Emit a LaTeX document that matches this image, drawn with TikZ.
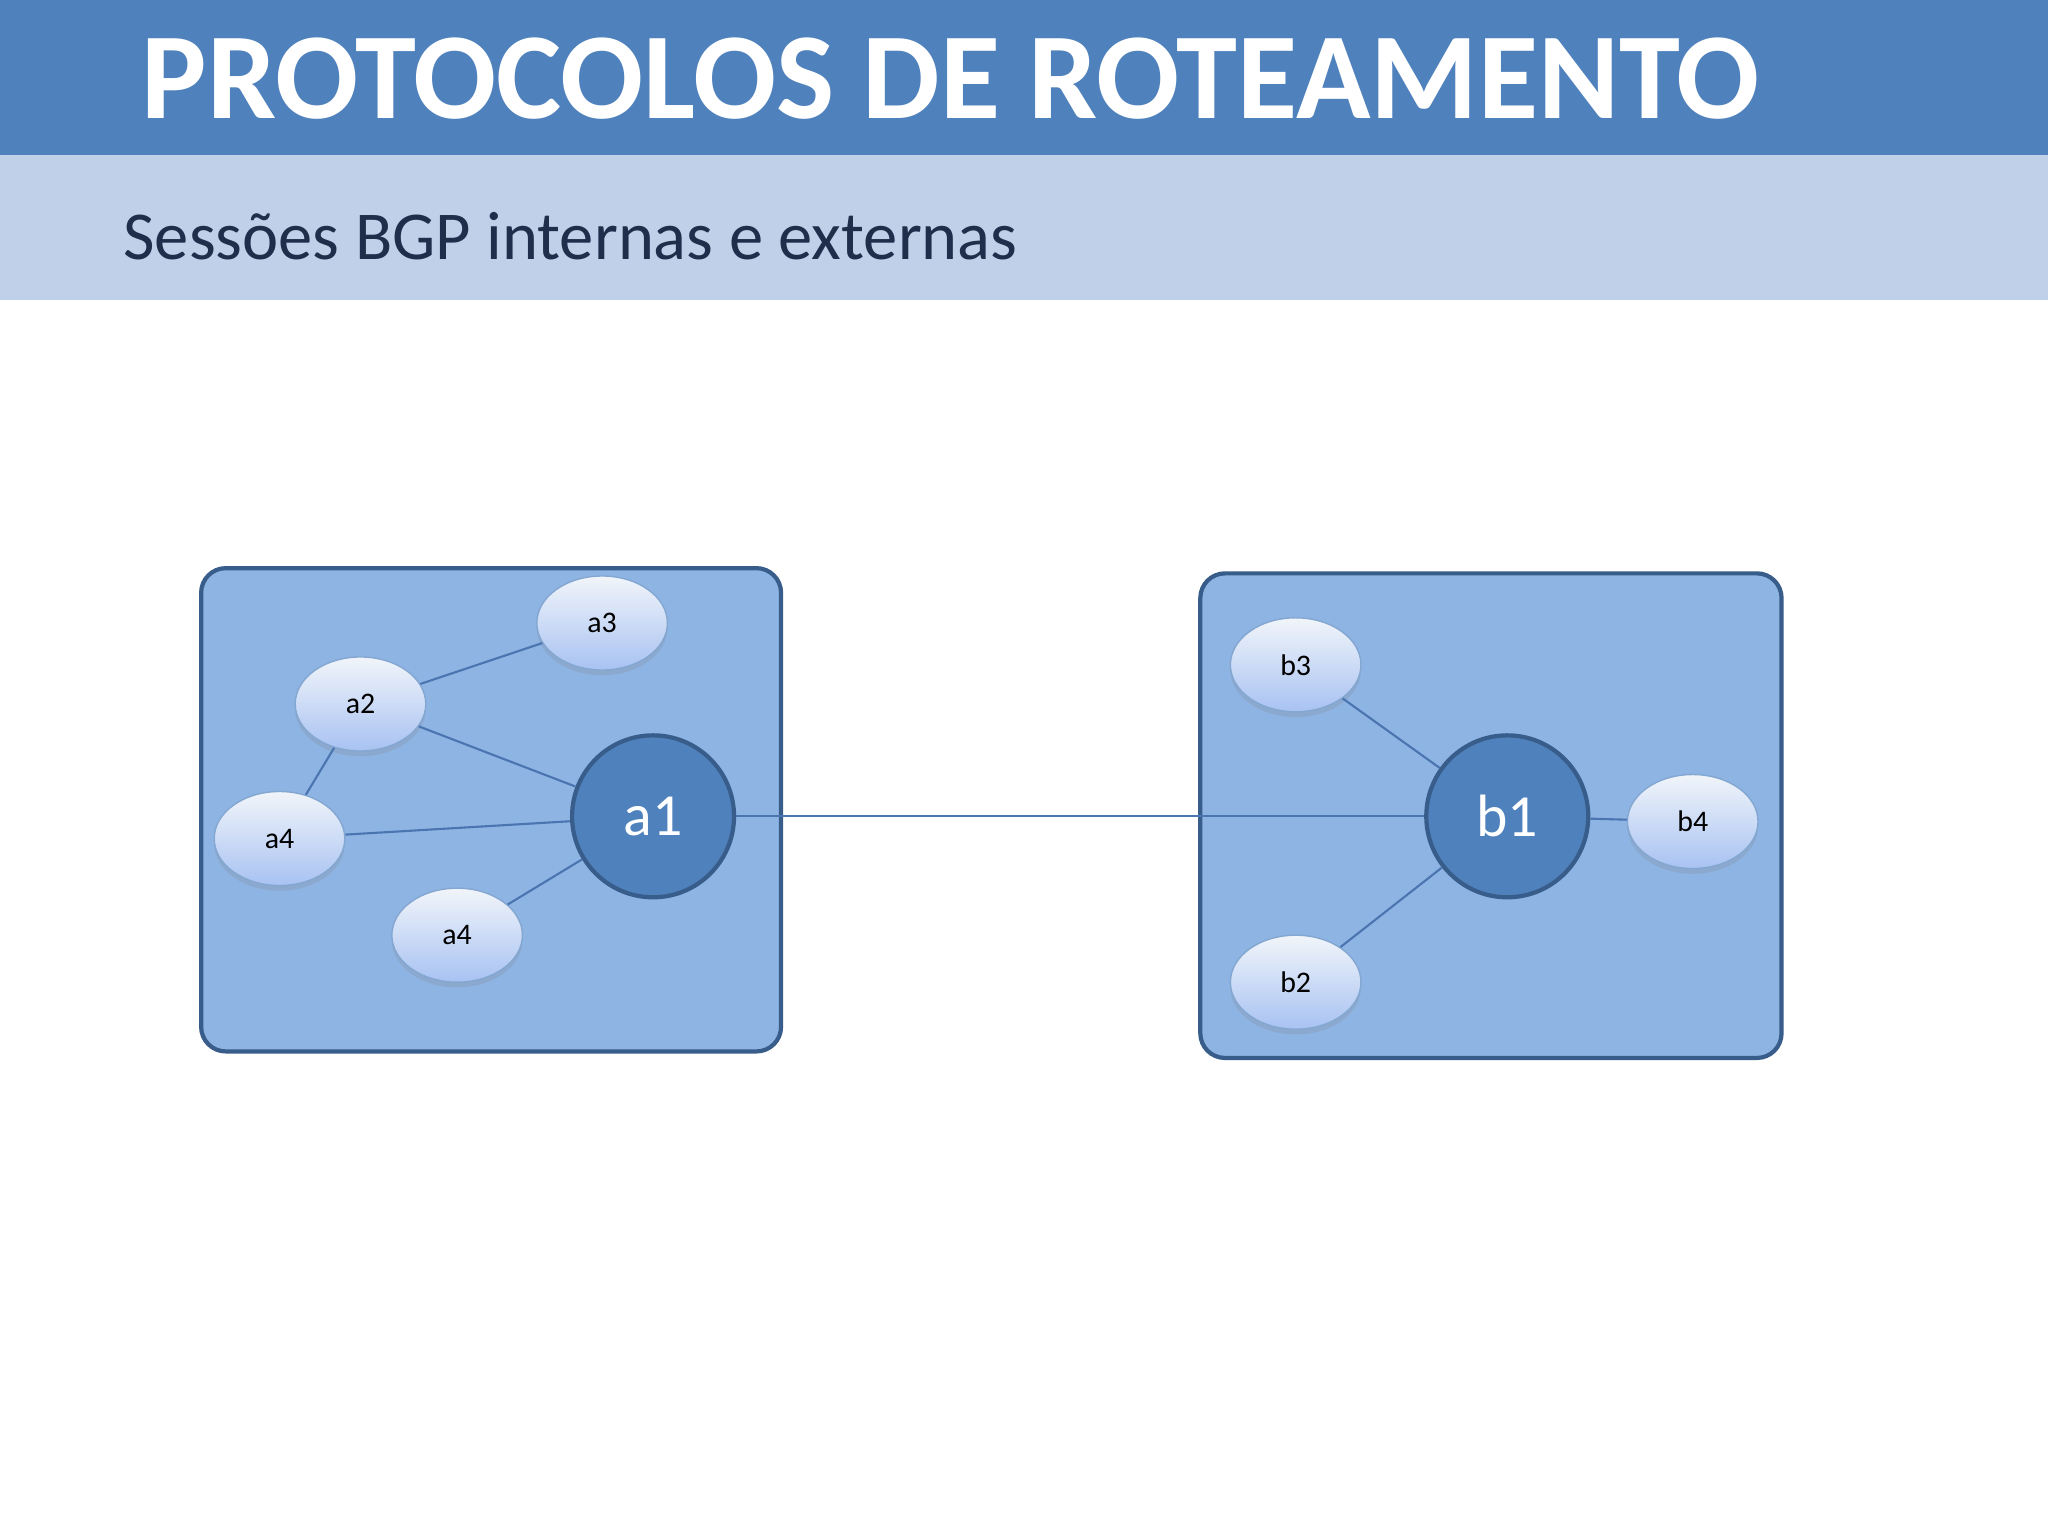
\documentclass[tikz,border=0pt]{standalone}
\usepackage{fontspec}
\setmainfont{Carlito}
\usetikzlibrary{shapes.geometric,shadows}
\definecolor{hdr}{HTML}{4F81BD}
\definecolor{band}{HTML}{BFD0E8}
\definecolor{subt}{HTML}{1F2E4A}
\definecolor{boxf}{HTML}{8EB4E3}
\definecolor{boxd}{HTML}{385D8A}
\definecolor{edge}{HTML}{4A75B0}
\definecolor{ellb}{HTML}{A8C2F2}
\newlength{\pxu}
\setlength{\pxu}{0.013061cm}
\tikzset{
 asbox/.style={draw=boxd,line width=1.2pt,fill=boxf,rounded corners=7pt},
 small/.style={ellipse,minimum width=100\pxu,minimum height=72\pxu,draw=hdr!70!white,line width=0.4pt,top color=white!92!hdr,bottom color=ellb,font=\fontsize{8.5}{8.5}\selectfont,text=black,drop shadow={shadow xshift=0pt,shadow yshift=-1.5pt,opacity=0.2}},
 big/.style={circle,minimum size=124\pxu,draw=boxd,line width=1.2pt,fill=hdr,text=white,font=\fontsize{17}{17}\selectfont},
 conn/.style={draw=edge,line width=0.6pt}
}
\begin{document}
\begin{tikzpicture}[x=0.013061cm,y=-0.013061cm]
\useasboundingbox (0,0) rectangle (1568,1176);
\fill[white] (0,0) rectangle (1568,1176);
\fill[hdr] (0,0) rectangle (1568,119);
\fill[band] (0,119) rectangle (1568,230);
\node[anchor=west,inner sep=0pt,text=white,font=\bfseries\fontsize{35}{35}\selectfont] (title) at (108,60) {PROTOCOLOS DE ROTEAMENTO};
\node[anchor=west,inner sep=0pt,text=subt,font=\fontsize{19.5}{19.5}\selectfont] (sub) at (94,181) {Sessões BGP internas e externas};
\draw[asbox] (154,435) rectangle (598,805);
\draw[asbox] (919,439) rectangle (1364,810);
\node[small] (a3) at (461,477) {a3};
\node[small] (a2) at (276,539) {a2};
\node[small] (a4) at (214,642) {a4};
\node[small] (a4b) at (350,716) {a4};
\node[big] (a1) at (500,625) {a1};
\node[small] (b3) at (992,509) {b3};
\node[small] (b2) at (992,752) {b2};
\node[small] (b4) at (1296,629) {b4};
\node[big] (b1) at (1154,625) {b1};
\draw[conn] (a2) -- (a3);
\draw[conn] (a2) -- (a1);
\draw[conn] (a2) -- (a4);
\draw[conn] (a4) -- (a1);
\draw[conn] (a4b) -- (a1);
\draw[conn] (a1) -- (b1);
\draw[conn] (b3) -- (b1);
\draw[conn] (b2) -- (b1);
\draw[conn] (b1) -- (b4);
\end{tikzpicture}
\end{document}
